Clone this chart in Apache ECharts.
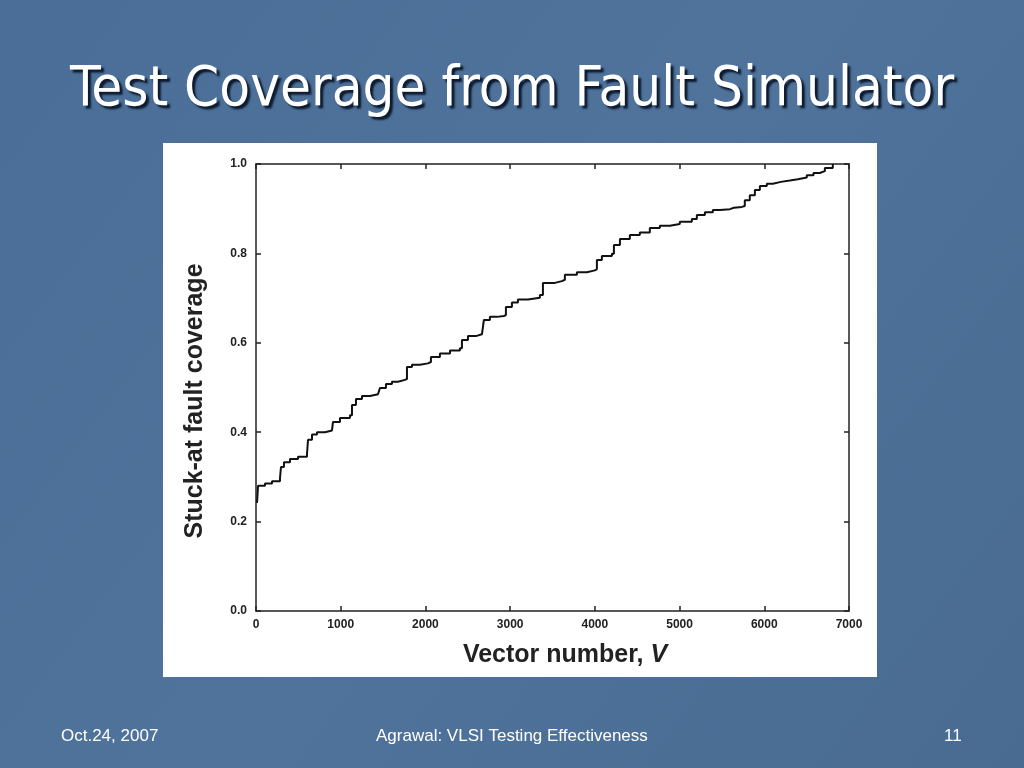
<!DOCTYPE html>
<html>
<head>
<meta charset="utf-8">
<script src="https://cdn.jsdelivr.net/npm/echarts@6/dist/echarts.min.js"></script>
<style>html,body{margin:0;padding:0;background:#4d7199;}#c{width:1024px;height:768px;}</style>
</head>
<body>
<div id="c"></div>
<script>
// Vector number (x) and stuck-at fault coverage (y)
const vectors = [12,24,106,189,283,295,330,401,496,602,614,661,720,814,897,909,991,1109,1133,1180,1251,1345,1440,1463,1534,1605,1676,1758,1782,1841,1935,2030,2065,2171,2290,2407,2431,2502,2596,2667,2690,2761,2844,2926,2950,3021,3092,3210,3351,3387,3528,3611,3646,3788,3906,4000,4024,4083,4201,4225,4296,4413,4531,4649,4767,4885,5003,5145,5204,5299,5393,5476,5594,5641,5735,5770,5829,5889,5948,6030,6101,6196,6302,6397,6502,6581,6656,6715,6809];
const coverage = [0.242,0.280,0.285,0.290,0.297,0.322,0.333,0.340,0.345,0.351,0.383,0.395,0.400,0.404,0.407,0.423,0.432,0.438,0.461,0.474,0.481,0.485,0.488,0.499,0.508,0.513,0.517,0.519,0.546,0.551,0.554,0.557,0.568,0.576,0.583,0.588,0.606,0.615,0.619,0.622,0.651,0.658,0.660,0.662,0.680,0.690,0.697,0.701,0.707,0.734,0.738,0.741,0.752,0.758,0.762,0.765,0.785,0.794,0.799,0.819,0.832,0.841,0.847,0.857,0.862,0.866,0.871,0.877,0.886,0.892,0.897,0.899,0.902,0.904,0.906,0.919,0.930,0.942,0.951,0.956,0.960,0.963,0.966,0.970,0.975,0.980,0.984,0.991,1.000];
const xTicks = [0,1000,2000,3000,4000,5000,6000,7000];
const yTicks = [0.0,0.2,0.4,0.6,0.8,1.0];
const titleText = 'Test Coverage from Fault Simulator';
const yName = 'Stuck-at fault coverage';
const xNameMain = 'Vector number, ';
const xNameVar = 'V';
const footerLeft = 'Oct.24, 2007';
const footerMid = 'Agrawal: VLSI Testing Effectiveness';
const footerRight = '11';

const points = vectors.map((v, i) => [v, coverage[i]]);
const chart = echarts.init(document.getElementById('c'), null, {renderer: 'canvas'});
const axisCommon = {
  axisLine: {show: true, onZero: false, lineStyle: {color: '#222', width: 1.5}},
  axisTick: {show: true, inside: true, length: 5, lineStyle: {color: '#222', width: 1.5}},
  splitLine: {show: false}
};
const tickFont = {color: '#222', fontSize: 12, fontWeight: 'bold', fontFamily: 'Liberation Sans, Arial, sans-serif'};
const footFont = '17px "Liberation Sans", Arial, sans-serif';
const footStyle = (t) => ({text: t, fill: '#ffffff', font: footFont, textShadowColor: '#1a2a40', textShadowOffsetX: 1, textShadowOffsetY: 1});
chart.setOption({
  backgroundColor: {
    type: 'linear', x: 0, y: 0, x2: 1, y2: 1,
    colorStops: [{offset: 0, color: '#4a6e97'}, {offset: 0.5, color: '#4f739b'}, {offset: 1, color: '#496b92'}]
  },
  animation: false,
  graphic: [
    {type: 'rect', left: 163, top: 143, shape: {width: 714, height: 534}, style: {fill: '#ffffff'}, z: -10},
    {type: 'text', left: 'center', top: 62, style: {
      text: titleText, fill: '#ffffff', font: '56px "DejaVu Sans Condensed", Tahoma, sans-serif',
      textShadowColor: '#0d1a2e', textShadowBlur: 2, textShadowOffsetX: 3, textShadowOffsetY: 3
    }},
    {type: 'text', x: 195, y: 401, rotation: Math.PI / 2, style: {
      text: yName, fill: '#222', font: 'bold 25px "Liberation Sans", Arial, sans-serif',
      textAlign: 'center', textVerticalAlign: 'middle', align: 'center', verticalAlign: 'middle'
    }},
    {type: 'text', x: 565, y: 655, style: {
      text: '{a|' + xNameMain + '}{b|' + xNameVar + '}', align: 'center', verticalAlign: 'middle',
      rich: {
        a: {fontSize: 25, fontWeight: 'bold', fill: '#222', fontFamily: 'Liberation Sans, Arial, sans-serif'},
        b: {fontSize: 25, fontWeight: 'bold', fontStyle: 'italic', fill: '#222', fontFamily: 'Liberation Sans, Arial, sans-serif'}
      }
    }},
    {type: 'text', left: 61, top: 728, style: footStyle(footerLeft)},
    {type: 'text', left: 376, top: 728, style: footStyle(footerMid)},
    {type: 'text', left: 944, top: 728, style: footStyle(footerRight)}
  ],
  grid: {left: 256, top: 164, width: 593, height: 447, containLabel: false},
  xAxis: [
    Object.assign({
      type: 'value', min: 0, max: 7000, interval: 1000, position: 'bottom',
      axisLabel: Object.assign({margin: 8, formatter: v => xTicks.includes(v) ? String(v) : ''}, tickFont)
    }, axisCommon),
    Object.assign({
      type: 'value', min: 0, max: 7000, interval: 1000, position: 'top', axisLabel: {show: false}
    }, axisCommon)
  ],
  yAxis: [
    Object.assign({
      type: 'value', min: 0, max: 1, interval: 0.2, position: 'left',
      axisLabel: Object.assign({margin: 9, formatter: v => yTicks.some(t => Math.abs(t - v) < 1e-9) ? v.toFixed(1) : ''}, tickFont)
    }, axisCommon),
    Object.assign({
      type: 'value', min: 0, max: 1, interval: 0.2, position: 'right', axisLabel: {show: false}
    }, axisCommon)
  ],
  series: [{
    type: 'line', data: points, step: 'end', showSymbol: false, symbol: 'none',
    lineStyle: {color: '#111', width: 2}, xAxisIndex: 0, yAxisIndex: 0
  }]
});
</script>
</body>
</html>
